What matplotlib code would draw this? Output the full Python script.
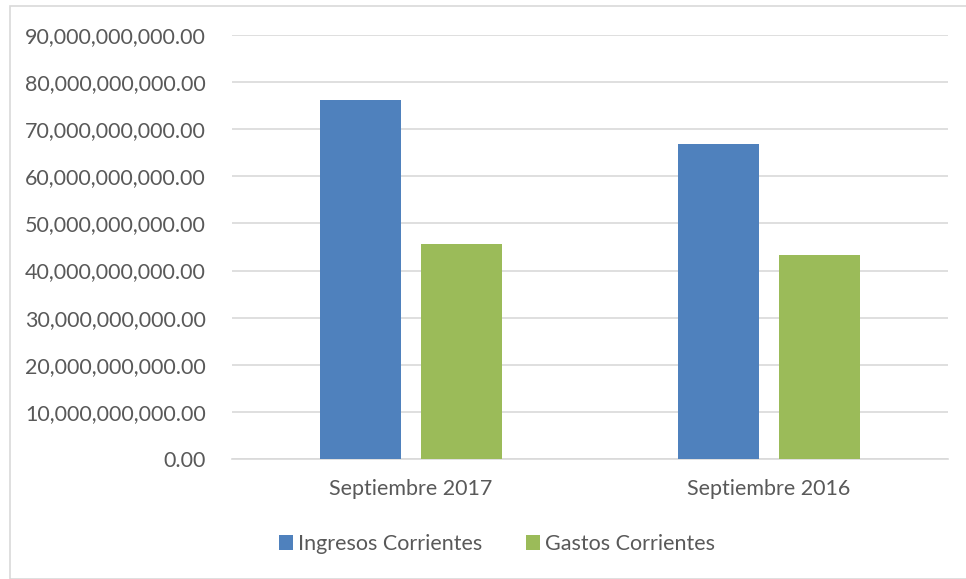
import matplotlib
matplotlib.use("Agg")
import matplotlib.pyplot as plt
from matplotlib.patches import Rectangle
from matplotlib.ticker import FuncFormatter
import numpy as np

categories = ["Septiembre 2017", "Septiembre 2016"]
ingresos = [76.25e9, 66.85e9]
gastos = [45.55e9, 43.3e9]
series_names = ["Ingresos Corrientes", "Gastos Corrientes"]

BLUE = "#4F81BD"
GREEN = "#9BBB59"
TEXT = "#595959"
GRID = "#D9D9D9"

plt.rcParams["font.family"] = ["Lato", "DejaVu Sans"]

fig = plt.figure(figsize=(9.66, 5.79), dpi=100)
ax = fig.add_axes([232 / 966, 1 - 459 / 579, 716 / 966, 424 / 579])

x = np.arange(len(categories))
w = 0.226
off = 0.142
ax.bar(x - off, ingresos, w, color=BLUE, label=series_names[0], zorder=3)
ax.bar(x + off, gastos, w, color=GREEN, label=series_names[1], zorder=3)

ax.set_xlim(-0.5, 1.5)
ax.set_ylim(0, 90e9)
ax.set_yticks(np.arange(0, 90e9 + 1, 10e9))
ax.yaxis.set_major_formatter(FuncFormatter(lambda v, p: f"{v:,.2f}"))
ax.set_xticks(x)
ax.set_xticklabels(categories)
ax.grid(axis="y", color=GRID, lw=1.2, zorder=0)
for s in ["top", "right", "left"]:
    ax.spines[s].set_visible(False)
ax.spines["bottom"].set_color(GRID)
ax.spines["bottom"].set_linewidth(1.2)
ax.tick_params(axis="both", length=0, colors=TEXT, labelsize=15.5)
ax.tick_params(axis="y", pad=19)
ax.tick_params(axis="x", pad=14.5)

leg = fig.legend(loc="center", bbox_to_anchor=(497 / 966, 1 - 544 / 579),
                 ncol=2, frameon=False, fontsize=15.5, handlelength=0.65,
                 handleheight=0.65, handletextpad=0.25, columnspacing=2.0)
for t in leg.get_texts():
    t.set_color(TEXT)

fig.patches.append(Rectangle((10 / 966, 0), 1, 1 - 6 / 579, transform=fig.transFigure,
                             fill=False, edgecolor=GRID, lw=1.2))

fig.savefig("out.png", dpi=100)
